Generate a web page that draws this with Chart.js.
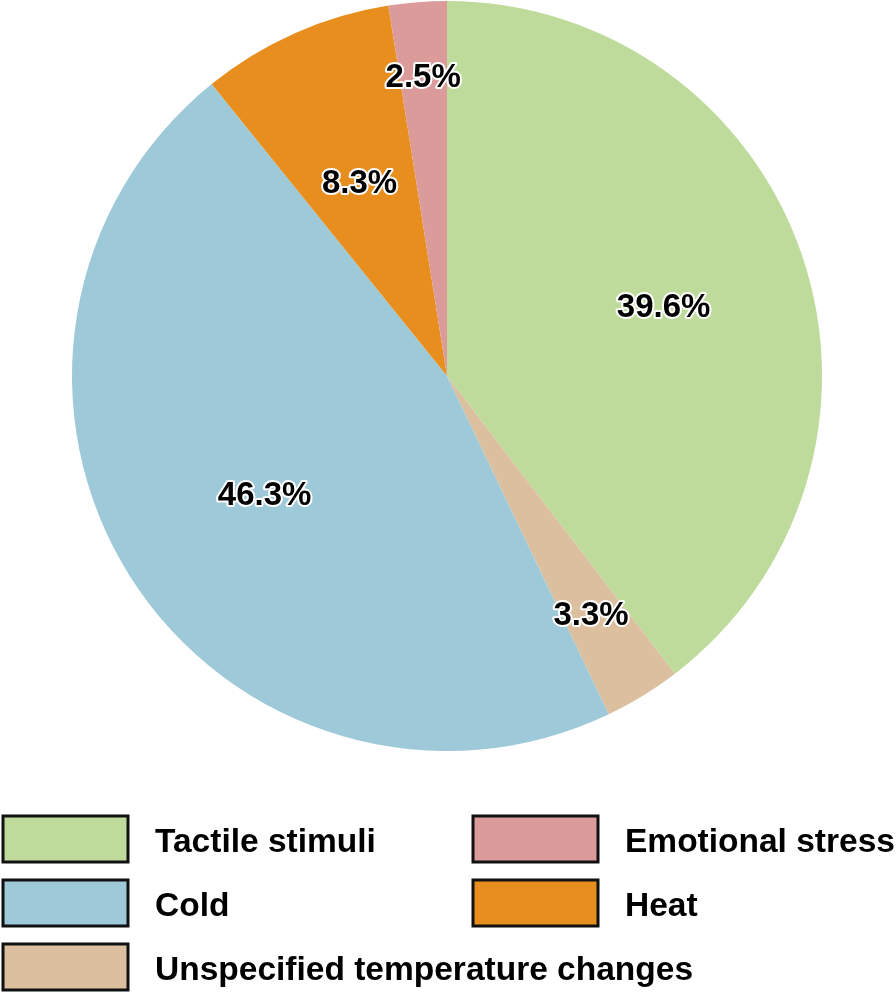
<!DOCTYPE html>
<html>
<head>
<meta charset="utf-8">
<script src="https://cdn.jsdelivr.net/npm/chart.js@4"></script>
<style>
  body { margin: 0; background: #fff; }
  #wrap { width: 896px; height: 993px; }
</style>
</head>
<body>
<div id="wrap"><canvas id="pieChart" width="896" height="993"></canvas></div>
<script>
// Data (clockwise from 12 o'clock)
const categories = ['Tactile stimuli', 'Unspecified temperature changes', 'Cold', 'Heat', 'Emotional stress'];
const shares = [39.6, 3.3, 46.3, 8.3, 2.5];
const sliceColors = ['#bfdb9b', '#dbbf9e', '#9ec9d9', '#e88e1e', '#db9b9b'];

// how far out each percentage label sits (fraction of radius)
const labelRadius = [0.61, 0.735, 0.575, 0.575, 0.81];

// legend layout: left column then right column
const legendOrder = [0, 2, 1, 4, 3];
const legendSlots = [
    { x: 3, y: 816 }, { x: 3, y: 880 }, { x: 3, y: 944 },
    { x: 473, y: 816 }, { x: 473, y: 880 }
];

const FONT = '"Liberation Sans", Arial, sans-serif';

// Percentage labels with a white halo
const sliceLabels = {
    id: 'sliceLabels',
    afterDatasetsDraw(chart) {
        const ctx = chart.ctx;
        const meta = chart.getDatasetMeta(0);
        ctx.save();
        ctx.font = 'bold 33px ' + FONT;
        ctx.textAlign = 'center';
        ctx.textBaseline = 'alphabetic';
        ctx.lineJoin = 'round';
        meta.data.forEach((arc, i) => {
            const mid = (arc.startAngle + arc.endAngle) / 2;
            const r = arc.outerRadius * labelRadius[i];
            const x = arc.x + Math.cos(mid) * r;
            const y = arc.y + Math.sin(mid) * r + 14;
            const txt = shares[i].toFixed(1) + '%';
            ctx.strokeStyle = '#ffffff';
            ctx.lineWidth = 4;
            ctx.strokeText(txt, x, y);
            ctx.fillStyle = '#000000';
            ctx.fillText(txt, x, y);
        });
        ctx.restore();
    }
};

// Boxed legend under the pie
const boxLegend = {
    id: 'boxLegend',
    afterDraw(chart) {
        const ctx = chart.ctx;
        ctx.save();
        ctx.font = 'bold 33.5px ' + FONT;
        ctx.textBaseline = 'alphabetic';
        ctx.textAlign = 'left';
        legendOrder.forEach((idx, k) => {
            const s = legendSlots[k];
            const w = 125, h = 46;
            ctx.fillStyle = sliceColors[idx];
            ctx.fillRect(s.x, s.y, w, h);
            ctx.lineWidth = 3;
            ctx.strokeStyle = '#111';
            ctx.strokeRect(s.x, s.y, w, h);
            ctx.fillStyle = '#000';
            ctx.fillText(categories[idx], s.x + 152, s.y + 36);
        });
        ctx.restore();
    }
};

new Chart(document.getElementById('pieChart').getContext('2d'), {
    type: 'pie',
    data: {
        labels: categories,
        datasets: [{
            data: shares,
            backgroundColor: sliceColors,
            borderWidth: 0
        }]
    },
    options: {
        responsive: false,
        devicePixelRatio: 1,
        animation: false,
        layout: { padding: { top: 1, bottom: 242, left: 72, right: 74 } },
        plugins: {
            legend: { display: false },
            tooltip: { enabled: false }
        }
    },
    plugins: [sliceLabels, boxLegend]
});
</script>
</body>
</html>
